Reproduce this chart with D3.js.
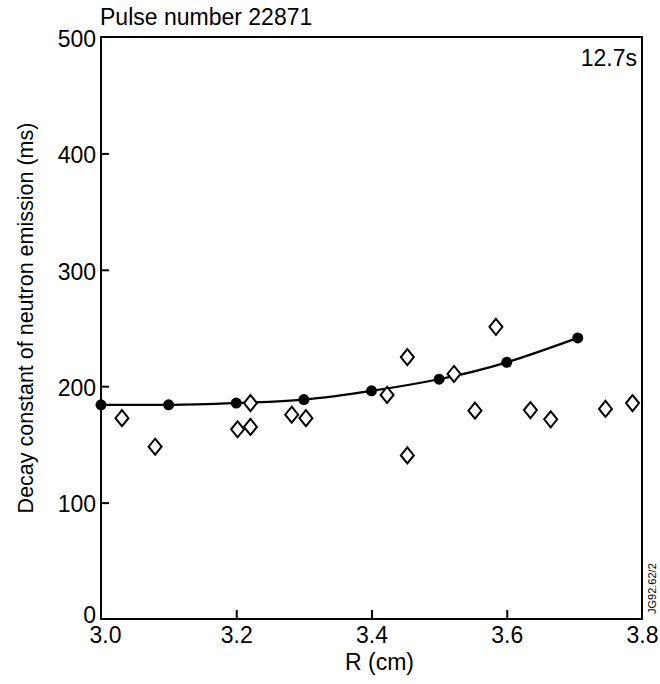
<!DOCTYPE html>
<html>
<head>
<meta charset="utf-8">
<script src="https://cdn.jsdelivr.net/npm/d3@7"></script>
<style>
  html, body { margin: 0; padding: 0; background: #fff; }
  svg { display: block; }
  text { font-family: "Liberation Sans", Arial, Helvetica, sans-serif; fill: #000; }
</style>
</head>
<body>
<svg id="chart" width="660" height="684"></svg>
<script>
// Fitted curve points (filled circles)
const fitR = [3.0, 3.1, 3.2, 3.3, 3.4, 3.5, 3.6, 3.705];
const fitDecay = [184, 184, 185.5, 188.5, 196, 206, 220.5, 241.5];

// Measured points (open diamonds)
const measR = [3.031, 3.080, 3.202, 3.221, 3.221, 3.282, 3.303, 3.423, 3.453, 3.453,
               3.522, 3.553, 3.584, 3.635, 3.665, 3.746, 3.786];
const measDecay = [172.5, 148, 163, 185.5, 165, 175.5, 172.5, 192.5, 225, 140.5,
                   210.5, 179, 251, 179.5, 171.5, 180.5, 185.5];

const xTicks = [3.0, 3.2, 3.4, 3.6, 3.8];
const yTicks = [0, 100, 200, 300, 400, 500];

const svg = d3.select('#chart');
const plotL = 101, plotR = 642, plotT = 37, plotB = 619;

const x = d3.scaleLinear().domain([3.0, 3.8]).range([plotL, plotR]);
const y = d3.scaleLinear().domain([0, 500]).range([plotB, plotT]);

// Frame
svg.append('rect')
  .attr('x', plotL).attr('y', plotT)
  .attr('width', plotR - plotL).attr('height', plotB - plotT)
  .attr('fill', 'none').attr('stroke', '#000').attr('stroke-width', 2);

// Axes with inward ticks
const xAxis = svg.append('g')
  .attr('transform', `translate(0,${plotB})`)
  .call(d3.axisBottom(x).tickValues(xTicks).tickFormat(d3.format('.1f'))
    .tickSizeInner(-9).tickSizeOuter(0).tickPadding(7));
xAxis.select('.domain').remove();
xAxis.selectAll('.tick line')
  .attr('stroke-width', 2)
  .attr('opacity', d => (d === 3.0 || d === 3.8) ? 0 : 1);
xAxis.selectAll('.tick text')
  .attr('font-size', 23).attr('dy', '0.72em')
  .attr('x', d => d === 3.0 ? 4 : 0)
  .style('font-family', '"Liberation Sans", Arial, sans-serif');

const yAxis = svg.append('g')
  .attr('transform', `translate(${plotL},0)`)
  .call(d3.axisLeft(y).tickValues(yTicks)
    .tickSizeInner(-8).tickSizeOuter(0).tickPadding(5));
yAxis.select('.domain').remove();
yAxis.selectAll('.tick line')
  .attr('stroke-width', 2)
  .attr('opacity', d => (d === 0 || d === 500) ? 0 : 1);
yAxis.selectAll('.tick text')
  .attr('font-size', 23).attr('dy', d => d === 0 ? '0.15em' : '0.4em').attr('x', -5)
  .style('font-family', '"Liberation Sans", Arial, sans-serif');

// Fitted curve
const line = d3.line()
  .x((d, i) => x(fitR[i]))
  .y((d, i) => y(fitDecay[i]))
  .curve(d3.curveNatural);

svg.append('path')
  .datum(fitR)
  .attr('d', line)
  .attr('fill', 'none')
  .attr('stroke', '#000')
  .attr('stroke-width', 2.2);

svg.append('g').selectAll('circle')
  .data(fitR)
  .join('circle')
  .attr('cx', d => x(d))
  .attr('cy', (d, i) => y(fitDecay[i]))
  .attr('r', 5.5)
  .attr('fill', '#000');

// Diamonds
const dw = 6.5, dh = 8;
svg.append('g').selectAll('path')
  .data(measR)
  .join('path')
  .attr('d', (d, i) => {
    const cx = x(d), cy = y(measDecay[i]);
    return `M${cx},${cy - dh}L${cx + dw},${cy}L${cx},${cy + dh}L${cx - dw},${cy}Z`;
  })
  .attr('fill', '#fff')
  .attr('stroke', '#000')
  .attr('stroke-width', 2);

// Labels
svg.append('text')
  .attr('x', 100).attr('y', 25)
  .attr('font-size', 23)
  .text('Pulse number 22871');

svg.append('text')
  .attr('x', 637).attr('y', 66)
  .attr('text-anchor', 'end')
  .attr('font-size', 23)
  .text('12.7s');

svg.append('text')
  .attr('x', (plotL + plotR) / 2 + 8).attr('y', 670)
  .attr('text-anchor', 'middle')
  .attr('font-size', 23)
  .text('R (cm)');

svg.append('text')
  .attr('transform', `translate(33,${(plotT + plotB) / 2 - 10}) rotate(-90)`)
  .attr('text-anchor', 'middle')
  .attr('font-size', 21.5)
  .text('Decay constant of neutron emission (ms)');

svg.append('text')
  .attr('transform', 'translate(656,614) rotate(-90)')
  .attr('font-size', 11)
  .text('JG92.62/2');
</script>
</body>
</html>
